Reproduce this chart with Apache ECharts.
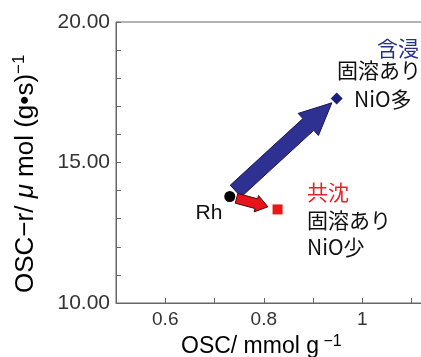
<!DOCTYPE html>
<html><head><meta charset="utf-8">
<script src="https://cdn.jsdelivr.net/npm/echarts@6/dist/echarts.min.js"></script>
<style>html,body{margin:0;padding:0;background:#fff;overflow:hidden;width:421px;height:357px}#c{width:477px;height:357px}</style>
</head><body><div id="c"></div>
<script>
// ---- data ----
const pointNames = ['Rh', '含浸', '共沈'];
const oscValues = [0.731, 0.948, 0.828];       // OSC / mmol g-1
const oscRateValues = [13.79, 17.28, 13.33];   // OSC-r / umol (g s)-1
const xTickLabels = ['0.6', '0.8', '1', '1.2'];
const yTickLabels = ['10.00', '15.00', '20.00'];
const annoLines = {
  '含浸': ['含浸', '固溶あり', 'NiO多'],
  '共沈': ['共沈', '固溶あり', 'NiO少']
};

const chart = echarts.init(document.getElementById('c'), null, {renderer: 'canvas'});
const LAT = 'Liberation Sans, Arial, sans-serif';
const CJK = 'Noto Sans CJK JP, sans-serif';
const axisCol = '#666';

const seriesStyles = [
  {symbol: 'circle', size: 11, color: '#000'},
  {symbol: 'diamond', size: 12, color: '#1a1f7e'},
  {symbol: 'rect', size: 10, color: '#ee1515'}
];

chart.setOption({
  animation: false,
  grid: {left: 116, top: 22, bottom: 54, right: 0.5, show: true, borderColor: axisCol, borderWidth: 1, backgroundColor: 'transparent'},
  xAxis: {
    type: 'value', min: 0.5, max: 1.2, interval: 0.1,
    axisLine: {show: true, lineStyle: {color: axisCol, width: 1}},
    axisTick: {show: true, inside: true, length: 5, lineStyle: {color: axisCol}},
    splitLine: {show: false},
    axisLabel: {
      margin: 7, color: '#333', fontSize: 19, fontFamily: LAT,
      formatter: v => { const s = String(+v.toFixed(1)); return xTickLabels.includes(s) ? s : ''; }
    }
  },
  yAxis: {
    type: 'value', min: 10, max: 20, interval: 1,
    axisLine: {show: true, lineStyle: {color: axisCol, width: 1}},
    axisTick: {show: true, inside: true, length: 5, lineStyle: {color: axisCol}},
    splitLine: {show: false},
    axisLabel: {
      margin: 6, color: '#333', fontSize: 21, fontFamily: LAT,
      formatter: v => { const s = v.toFixed(2); return yTickLabels.includes(s) ? s : ''; }
    }
  },
  series: pointNames.map((n, i) => ({
    name: n, type: 'scatter', z: 5,
    symbol: seriesStyles[i].symbol, symbolSize: seriesStyles[i].size,
    itemStyle: {color: seriesStyles[i].color, opacity: 1},
    data: [[oscValues[i], oscRateValues[i]]]
  }))
});

function px(i) { return chart.convertToPixel({gridIndex: 0}, [oscValues[i], oscRateValues[i]]); }

function arrowShape(a, b, startGap, endGap, sw, hw, hl) {
  const dx = b[0] - a[0], dy = b[1] - a[1];
  const L = Math.hypot(dx, dy);
  const ux = dx / L, uy = dy / L, nx = -uy, ny = ux;
  const p0 = [a[0] + ux * startGap, a[1] + uy * startGap];
  const p1 = [b[0] - ux * endGap, b[1] - uy * endGap];
  const base = [p1[0] - ux * hl, p1[1] - uy * hl];
  const o = (p, w) => [p[0] + nx * w, p[1] + ny * w];
  return [o(p0, sw / 2), o(base, sw / 2), o(base, hw / 2), p1, o(base, -hw / 2), o(base, -sw / 2), o(p0, -sw / 2)];
}

const pRh = px(0), pImp = px(1), pCop = px(2);

const graphics = [
  {type: 'polygon', z: 3, shape: {points: arrowShape(pRh, pImp, 8, 6.5, 16, 30, 32)},
   style: {fill: '#2e3192', stroke: '#15154f', lineWidth: 1}},
  {type: 'polygon', z: 3, shape: {points: arrowShape(pRh, pCop, 7, 10, 10, 17, 12)},
   style: {fill: '#e8141c', stroke: '#4a0a0a', lineWidth: 1}},
  // Rh label
  {type: 'text', z: 6, x: 209, y: 213, style: {text: 'Rh', fontSize: 21, fontFamily: LAT, fill: '#111', align: 'center', verticalAlign: 'middle'}},
  // 含浸 block
  {type: 'text', z: 6, x: 377, y: 48, style: {text: annoLines['含浸'][0], fontSize: 21, fontFamily: CJK, fill: '#27318b', align: 'left', verticalAlign: 'middle'}},
  {type: 'text', z: 6, x: 337, y: 70, style: {text: annoLines['含浸'][1], fontSize: 21, fontFamily: CJK, fill: '#111', align: 'left', verticalAlign: 'middle'}},
  {type: 'text', z: 6, x: 354, y: 99, style: {text: annoLines['含浸'][2], fontSize: 21, fontFamily: CJK, fill: '#111', align: 'left', verticalAlign: 'middle'}},
  // 共沈 block
  {type: 'text', z: 6, x: 307, y: 192, style: {text: annoLines['共沈'][0], fontSize: 21, fontFamily: CJK, fill: '#e8202a', align: 'left', verticalAlign: 'middle'}},
  {type: 'text', z: 6, x: 307, y: 220, style: {text: annoLines['共沈'][1], fontSize: 21, fontFamily: CJK, fill: '#111', align: 'left', verticalAlign: 'middle'}},
  {type: 'text', z: 6, x: 307, y: 247.5, style: {text: annoLines['共沈'][2], fontSize: 21, fontFamily: CJK, fill: '#111', align: 'left', verticalAlign: 'middle'}},
  // x axis title
  {type: 'text', z: 6, x: 181, y: 347, style: {
    text: '{m|OSC/ mmol g}{s| −1}', align: 'left', verticalAlign: 'middle',
    rich: {m: {fontSize: 23, fontFamily: LAT, color: '#222', lineHeight: 26},
           s: {fontSize: 16, fontFamily: LAT, color: '#222', verticalAlign: 'top', lineHeight: 16}}
  }},
  // y axis title
  {type: 'text', z: 6, x: 26, y: 293, rotation: Math.PI / 2, style: {
    text: '{m|OSC−r/ }{i|μ}{m| mol (g•s)}{s|−1}', align: 'left', verticalAlign: 'middle',
    rich: {m: {fontSize: 26, fontFamily: LAT, color: '#222', lineHeight: 30},
           i: {fontSize: 26, fontFamily: LAT, fontStyle: 'italic', color: '#222', lineHeight: 30},
           s: {fontSize: 17, fontFamily: LAT, color: '#222', verticalAlign: 'top', lineHeight: 17}}
  }}
];
chart.setOption({graphic: graphics});
</script></body></html>
